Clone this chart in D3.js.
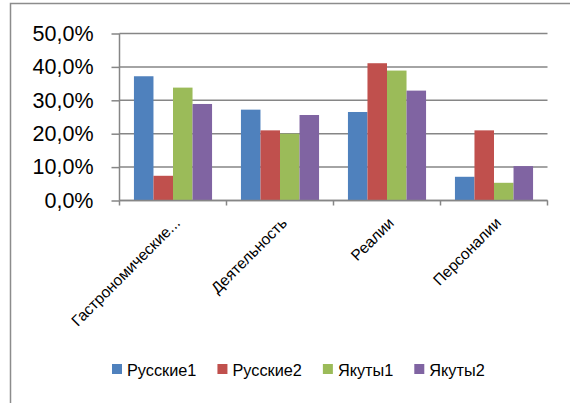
<!DOCTYPE html>
<html>
<head>
<meta charset="utf-8">
<script src="https://cdn.jsdelivr.net/npm/d3@7"></script>
<style>
  body { margin: 0; background: #fff; }
  svg { display: block; }
  text { font-family: "Liberation Sans", Arial, sans-serif; fill: #000; }
</style>
</head>
<body>
<div id="chart"></div>
<script>
// data
var categories = ["Гастрономические...", "Деятельность", "Реалии", "Персоналии"];
var seriesNames = ["Русские1", "Русские2", "Якуты1", "Якуты2"];
var russkie1 = [37.2, 27.2, 26.5, 7.1];
var russkie2 = [7.4, 21.0, 41.1, 21.0];
var yakuty1 = [33.8, 20.0, 38.9, 5.3];
var yakuty2 = [28.9, 25.6, 32.9, 10.3];
var yTicks = [0, 10, 20, 30, 40, 50];
var colors = ["#4F81BD", "#C0504D", "#9BBB59", "#8064A2"];

var seriesValues = [russkie1, russkie2, yakuty1, yakuty2];

var svg = d3.select("#chart").append("svg").attr("width", 570).attr("height", 403);
svg.append("rect").attr("width", "100%").attr("height", "100%").attr("fill", "white");

// chart frame (cut off at right and bottom)
svg.append("rect").attr("x", 10.5).attr("y", 3.5).attr("width", 600).attr("height", 450)
  .attr("fill", "none").attr("stroke", "#8c8c8c").attr("stroke-width", 1.5);

var x = d3.scaleBand().domain(categories).range([119.5, 547.5]).paddingInner(0.27).paddingOuter(0.135);
var xs = d3.scaleBand().domain(seriesNames).range([0, x.bandwidth()]);
var y = d3.scaleLinear().domain([0, 50]).range([200.5, 33.5]);

var gridColor = "#868686";

// gridlines
svg.selectAll("line.grid").data(yTicks).enter().append("line").attr("class", "grid")
  .attr("x1", 119.5).attr("x2", 547.5)
  .attr("y1", function(d){return y(d);}).attr("y2", function(d){return y(d);})
  .attr("stroke", gridColor).attr("stroke-width", 1.5);

// bars
seriesNames.forEach(function(s, i){
  svg.selectAll("rect.s" + i).data(seriesValues[i]).enter().append("rect").attr("class", "s" + i)
    .attr("x", function(d, j){return x(categories[j]) + xs(s);})
    .attr("y", function(d){return y(d);})
    .attr("width", xs.bandwidth())
    .attr("height", function(d){return y(0) - y(d);})
    .attr("fill", colors[i]);
});

// y axis
var yAxis = svg.append("g").attr("transform", "translate(119.5,0)")
  .call(d3.axisLeft(y).tickValues(yTicks).tickSize(8).tickPadding(18)
    .tickFormat(function(d){return d.toFixed(1).replace(".", ",") + "%";}));
yAxis.select(".domain").attr("stroke", gridColor).attr("stroke-width", 1.5).attr("d", "M0," + y(50) + "V" + y(0));
yAxis.selectAll(".tick line").attr("stroke", gridColor).attr("stroke-width", 1.5);
yAxis.selectAll(".tick text").style("font-size", "21.5px").style("font-family", "Liberation Sans, Arial, sans-serif");

// x axis with ticks between categories
var step = x.step();
var bounds = categories.map(function(c){return x(c) - step * x.paddingInner() / 2;});
bounds.push(bounds[bounds.length - 1] + step);
svg.append("line").attr("x1", 119.5).attr("x2", 547.5).attr("y1", y(0)).attr("y2", y(0))
  .attr("stroke", gridColor).attr("stroke-width", 1.5);
svg.selectAll("line.xtick").data(bounds).enter().append("line").attr("class", "xtick")
  .attr("x1", function(d){return d;}).attr("x2", function(d){return d;})
  .attr("y1", y(0)).attr("y2", y(0) + 5)
  .attr("stroke", gridColor).attr("stroke-width", 1.5);

svg.selectAll("text.cat").data(categories).enter().append("text").attr("class", "cat")
  .attr("transform", function(d){return "translate(" + (x(d) + x.bandwidth() / 2 + 8) + ",224) rotate(-45)";})
  .attr("text-anchor", "end").style("font-size", "15.5px")
  .text(function(d){return d;});

// legend
var legend = svg.append("g");
var lx = 112;
seriesNames.forEach(function(s, i){
  var item = legend.append("g").attr("transform", "translate(" + lx + ",0)");
  item.append("rect").attr("x", 0).attr("y", 364).attr("width", 10).attr("height", 10).attr("fill", colors[i]);
  var t = item.append("text").attr("x", 15).attr("y", 376).style("font-size", "16.3px").text(s);
  lx += 15 + t.node().getComputedTextLength() + 21;
});
</script>
</body>
</html>
